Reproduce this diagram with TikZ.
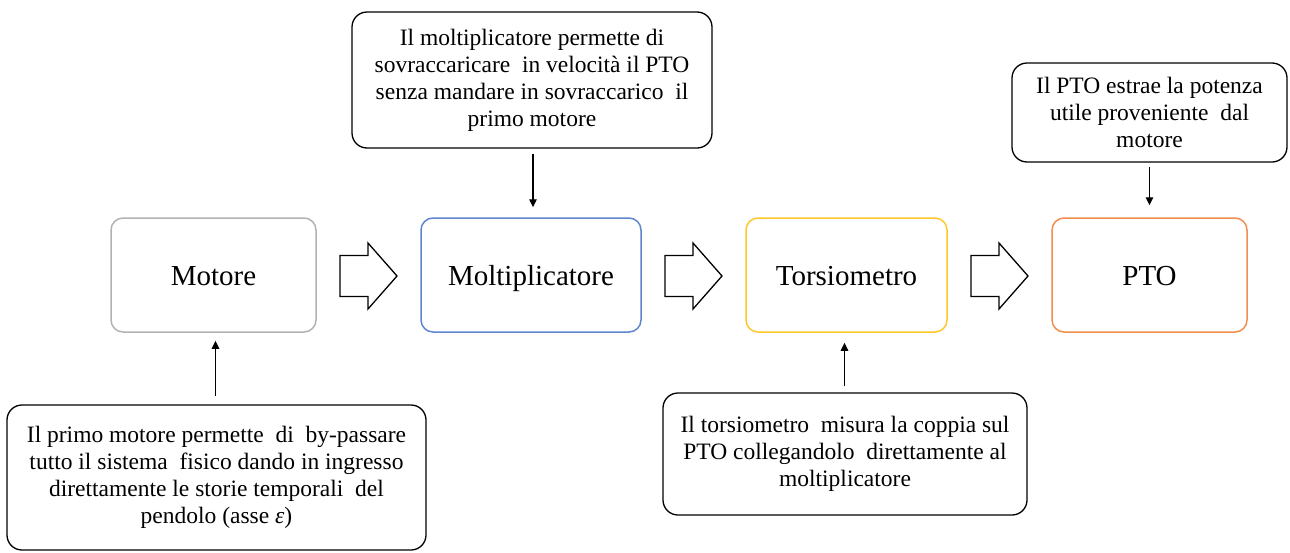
\documentclass[tikz,border=0pt]{standalone}
\usepackage{fontspec}
\setmainfont{Liberation Serif}
\usetikzlibrary{arrows.meta,calc}
\definecolor{cgray}{HTML}{B2B2B2}
\definecolor{cblue}{HTML}{5D86CE}
\definecolor{cgold}{HTML}{FFC72A}
\definecolor{corange}{HTML}{F08E4E}
\newcommand{\xs}{\hspace{0.25em}}
\begin{document}
\begin{tikzpicture}[x=1pt,y=-1pt,
  mainbox/.style={draw, rounded corners=12pt, line width=1.5pt, minimum height=114pt, inner sep=0pt, text height=24pt, text depth=4pt, font=\fontsize{29}{34}\selectfont},
  note/.style={draw, rounded corners=15pt, line width=1.3pt, inner sep=0pt, align=center, font=\fontsize{23.5}{27}\selectfont},
  conn/.style={-{Triangle[length=8pt,width=7.5pt]}, line width=1.3pt},
  blockarrow/.style={draw, line width=1.3pt, fill=white, line join=miter}]
\useasboundingbox (0,0) rectangle (1290,552);

% main boxes
\node[mainbox, draw=cgray, minimum width=205pt] (mot) at (213.5,275) {Motore};
\node[mainbox, draw=cblue, minimum width=220pt] (molt) at (531,275) {Moltiplicatore};
\node[mainbox, draw=cgold, minimum width=201pt] (tors) at (846.5,275) {Torsiometro};
\node[mainbox, draw=corange, minimum width=195pt] (pto) at (1149.5,275) {PTO};

% block arrows
\foreach \a/\b in {mot/molt, molt/tors, tors/pto}{
  \coordinate (m) at ($(\a.east)!0.5!(\b.west)$);
  \draw[blockarrow] ($(m)+(-28.5,1)$) ++(0,-20.5) -- ++(28,0) -- ++(0,-12.5) -- ++(29,33)
    -- ++(-29,33) -- ++(0,-12.5) -- ++(-28,0) -- cycle;
}

% notes
\node[note, minimum width=360pt, minimum height=136pt] (n1) at (532,80)
  {\rule{0pt}{10pt}Il moltiplicatore permette di\\ sovraccaricare\xs{} in velocità il PTO\\ senza mandare in sovraccarico\xs{} il\\ primo motore};
\node[note, minimum width=275pt, minimum height=99pt] (n2) at (1149.5,112.5)
  {Il PTO estrae la potenza\\ utile proveniente\xs{} dal\\ motore};
\node[note, minimum width=419pt, minimum height=145pt] (n3) at (216.5,477.5)
  {\rule{0pt}{8pt}Il primo motore permette\xs{} di\xs{} by-passare\\ tutto il sistema\xs{} fisico dando in ingresso\\ direttamente le storie temporali\xs{} del\\ pendolo (asse \textit{ε})};
\node[note, minimum width=364pt, minimum height=122pt] (n4) at (845,454)
  {Il torsiometro\xs{} misura la coppia sul\\ PTO collegandolo\xs{} direttamente al\\ moltiplicatore};

% connectors
\draw[conn, shorten <=5pt, shorten >=10pt] (n1.south -| molt.north) ++(2,0) coordinate (s1) -- (s1 |- molt.north);
\draw[conn, shorten <=4pt, shorten >=12pt] (n2.south) -- (n2.south |- pto.north);
\draw[conn, shorten <=8pt, shorten >=8pt] (n3.north -| mot.south) ++(2,0) coordinate (s3) -- (s3 |- mot.south);
\draw[conn, shorten <=6pt, shorten >=10pt] (n4.north -| tors.south) ++(-2,0) coordinate (s4) -- (s4 |- tors.south);
\end{tikzpicture}
\end{document}
